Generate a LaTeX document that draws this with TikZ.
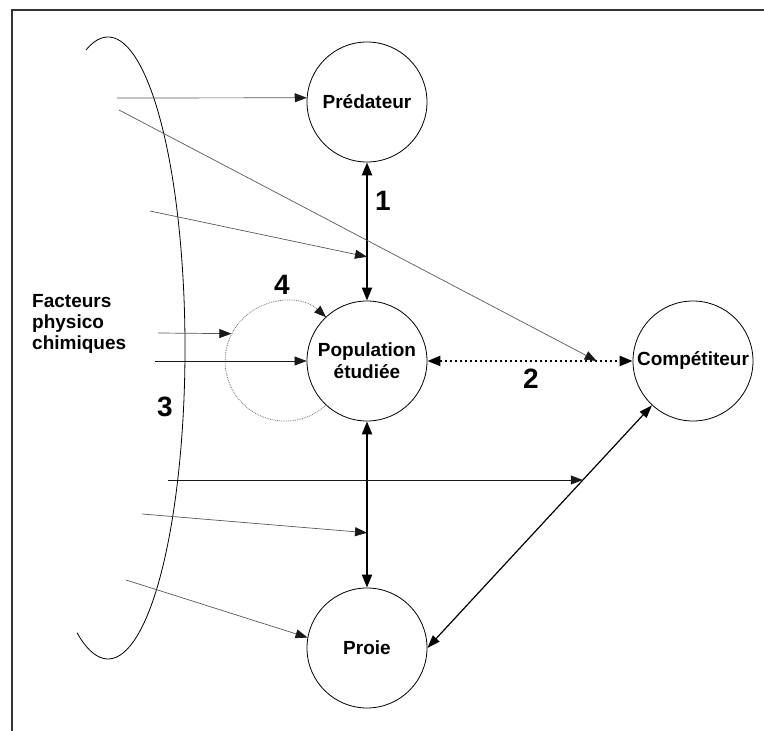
\documentclass[tikz,border=0pt]{standalone}
\usepackage{fontspec}
\setmainfont{Liberation Sans}
\usetikzlibrary{arrows.meta,calc}
\tikzset{%
  espece/.style = {circle, draw, line width=0.8pt,
    minimum size=120pt, inner sep=0pt, align=center,
    font=\bfseries\fontsize{19}{22}\selectfont},
  chiffre/.style = {font=\bfseries\fontsize{28}{28}\selectfont},
  facteur/.style = {draw=black!65, line width=0.7pt,
    -{Triangle[length=12pt,width=9pt,color=black!90]}},
  interaction/.style = {line width=2.2pt,
    {Triangle[length=13pt,width=10pt]}-{Triangle[length=13pt,width=10pt]}},
  boucle/.style = {draw=black!55, line width=0.8pt, densely dotted,
    -{Triangle[length=12pt,width=9pt,color=black!90]}}
}
\begin{document}
\begin{tikzpicture}[x=1pt,y=1pt]
  \useasboundingbox (0,0) rectangle (764,731);
  % cadre
  \draw[line width=1.5pt, black!80] (12,0) -- (12,721) -- (764,721);
  % ensemble des facteurs
  \coordinate (arc) at (108,383);
  \draw[line width=0.8pt] ($(arc)+(-22,298)$)
    arc[start angle=106.6, end angle=-113.7, x radius=77pt, y radius=311pt];
  \node[align=left, anchor=west, inner sep=0pt,
    font=\bfseries\fontsize{19}{21}\selectfont]
    (fact) at (32,407) {Facteurs\\physico\\chimiques};

  % populations
  \node[espece] (pred) at (367,629) {Prédateur};
  \node[espece] (pop) at (367,370) {Population\\étudiée};
  \node[espece] (comp) at (693,370) {Compétiteur};
  \node[espece] (proie) at (367,83) {Proie};
  \node[circle, minimum size=120pt, inner sep=0pt] (loop) at (285,370) {};

  % interactions
  \draw[interaction] (pred.south) -- (pop.north);
  \draw[interaction] (pop.south) -- (proie.north);
  \draw[interaction, dash pattern=on 2.5pt off 2.5pt] (pop.east) -- (comp.west);
  \draw[line width=1.2pt,
    {Triangle[length=13pt,width=9pt]}-{Triangle[length=13pt,width=9pt]}]
    (proie.east) -- (comp);
  \draw[boucle] (loop.-47) arc[start angle=-47, end angle=-313, radius=60pt];

  \node[chiffre] (n1) at (383,530) {1};
  \node[chiffre] (n2) at (531,352) {2};
  \node[chiffre] (n3) at (165,324) {3};
  \node[chiffre] (n4) at (282,446) {4};

  % facteurs physico chimiques
  \coordinate (s1) at (117,633);
  \coordinate (s2) at (119,621);
  \coordinate (s3) at (150,520);
  \coordinate (s4) at (158,398);
  \coordinate (s5) at (155,370);
  \coordinate (s6) at (168,251);
  \coordinate (s7) at (142,217);
  \coordinate (s8) at (126,151);
  \coordinate (c2) at ($(pop.east)!0.825!(comp.west)$);
  \coordinate (c3) at ($(pred.south)!0.683!(pop.north)$);
  \coordinate (c6) at ($(proie.east)!0.585!(comp)$);
  \coordinate (c7) at ($(pop.south)!0.67!(proie.north)$);
  \draw[facteur] (s1) -- (pred.176);
  \draw[facteur] (s2) -- (c2);
  \draw[facteur] (s3) -- (c3);
  \draw[facteur] (s4) -- (loop.153);
  \draw[facteur, draw=black!90] (s5) -- (pop.west);
  \draw[facteur, draw=black!90] (s6) -- (s6 -| c6);
  \draw[facteur] (s7) -- (c7);
  \draw[facteur] (s8) -- (proie.170);
\end{tikzpicture}
\end{document}
